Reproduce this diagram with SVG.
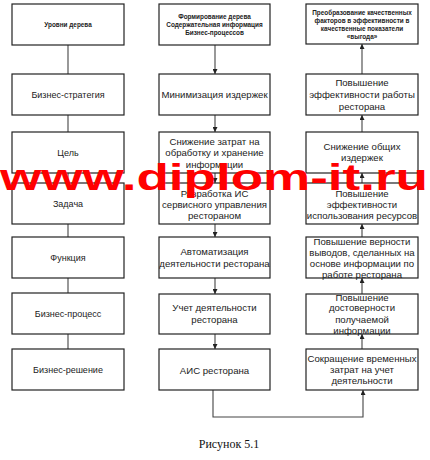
<svg xmlns="http://www.w3.org/2000/svg" width="430" height="460" viewBox="0 0 430 460">
<defs>
<style>
.box{fill:#fff;stroke:#222;stroke-width:1.2}
.t{font-family:"Liberation Sans",Arial,sans-serif;font-size:9.6px;fill:#222;text-anchor:middle;dominant-baseline:central}
.tl{font-family:"Liberation Sans",Arial,sans-serif;font-size:9px;fill:#222;text-anchor:middle;dominant-baseline:central}
.h{font-family:"Liberation Sans",Arial,sans-serif;font-size:6.4px;font-weight:bold;fill:#222;text-anchor:middle;dominant-baseline:central}
.c{fill:none;stroke:#444;stroke-width:1.1}
.wm{font-family:"Liberation Sans",Arial,sans-serif;font-size:36px;font-weight:bold;fill:#f00}
.cap{font-family:"Liberation Serif","Times New Roman",serif;font-size:12px;fill:#111;text-anchor:middle}
</style>
<marker id="ah" viewBox="0 0 6 6" refX="6" refY="3" markerWidth="5" markerHeight="5" orient="auto" markerUnits="userSpaceOnUse">
<path d="M0,0 L6,3 L0,6 z" fill="#222"/>
</marker>
</defs>
<rect width="430" height="460" fill="#fff"/>

<g id="connectors">
<line class="c" x1="68" y1="45" x2="68" y2="74"/>
<line class="c" x1="68" y1="115" x2="68" y2="132"/>
<line class="c" x1="68" y1="173" x2="68" y2="183"/>
<line class="c" x1="68" y1="224" x2="68" y2="237"/>
<line class="c" x1="68" y1="278" x2="68" y2="293"/>
<line class="c" x1="68" y1="334" x2="68" y2="349"/>

<line class="c" x1="215" y1="45" x2="215" y2="74" marker-end="url(#ah)"/>
<line class="c" x1="215" y1="115" x2="215" y2="132" marker-end="url(#ah)"/>
<line class="c" x1="215" y1="173" x2="215" y2="183" marker-end="url(#ah)"/>
<line class="c" x1="215" y1="224" x2="215" y2="237" marker-end="url(#ah)"/>
<line class="c" x1="215" y1="278" x2="215" y2="294" marker-end="url(#ah)"/>
<line class="c" x1="215" y1="334" x2="215" y2="349" marker-end="url(#ah)"/>

<line class="c" x1="362" y1="74" x2="362" y2="44" marker-end="url(#ah)"/>
<line class="c" x1="362" y1="132" x2="362" y2="115" marker-end="url(#ah)"/>
<line class="c" x1="362" y1="183" x2="362" y2="173" marker-end="url(#ah)"/>
<line class="c" x1="362" y1="237" x2="362" y2="224" marker-end="url(#ah)"/>
<line class="c" x1="362" y1="294" x2="362" y2="278" marker-end="url(#ah)"/>
<line class="c" x1="362" y1="349" x2="362" y2="334" marker-end="url(#ah)"/>

<polyline class="c" points="213,390 213,417 363,417 363,390" marker-end="url(#ah)"/>
</g>

<g id="l1"><rect class="box" x="12" y="4" width="112" height="41"/><text class="h" x="68" y="24.5">Уровни дерева</text></g>
<g id="l2"><rect class="box" x="12" y="74" width="112" height="41"/><text class="tl" x="68" y="95">Бизнес-стратегия</text></g>
<g id="l3"><rect class="box" x="12" y="132" width="112" height="41"/><text class="tl" x="68" y="152.5">Цель</text></g>
<g id="l4"><rect class="box" x="12" y="183" width="112" height="41"/><text class="tl" x="68" y="204">Задача</text></g>
<g id="l5"><rect class="box" x="12" y="237" width="112" height="41"/><text class="tl" x="68" y="258">Функция</text></g>
<g id="l6"><rect class="box" x="12" y="293" width="112" height="41"/><text class="tl" x="68" y="314">Бизнес-процесс</text></g>
<g id="l7"><rect class="box" x="12" y="349" width="112" height="41"/><text class="tl" x="68" y="369.5">Бизнес-решение</text></g>

<g id="m1"><rect class="box" x="159" y="4" width="111" height="41"/>
<text class="h" x="214.5" y="16">Формирование дерева</text>
<text class="h" x="214.5" y="24">Содержательная информация</text>
<text class="h" x="214.5" y="32">Бизнес-процессов</text></g>
<g id="m2"><rect class="box" x="159" y="74" width="111" height="41"/><text class="t" x="214.5" y="94.5">Минимизация издержек</text></g>
<g id="m3"><rect class="box" x="159" y="132" width="111" height="41"/>
<text class="t" x="214.5" y="141">Снижение затрат на</text>
<text class="t" x="214.5" y="152.5">обработку и хранение</text>
<text class="t" x="214.5" y="164">информации</text></g>
<g id="m4"><rect class="box" x="159" y="183" width="111" height="41"/>
<text class="t" x="214.5" y="193.3">Разработка ИС</text>
<text class="t" x="214.5" y="204.3">сервисного управления</text>
<text class="t" x="214.5" y="215.3">рестораном</text></g>
<g id="m5"><rect class="box" x="159" y="237" width="111" height="41"/>
<text class="t" x="214.5" y="251.7">Автоматизация</text>
<text class="t" x="214.5" y="263.3">деятельности ресторана</text></g>
<g id="m6"><rect class="box" x="159" y="294" width="111" height="40"/>
<text class="t" x="214.5" y="307.3">Учет деятельности</text>
<text class="t" x="214.5" y="319.3">ресторана</text></g>
<g id="m7"><rect class="box" x="159" y="349" width="111" height="41"/><text class="t" x="214.5" y="370">АИС ресторана</text></g>

<g id="r1"><rect class="box" x="306" y="4" width="112" height="40"/>
<text class="h" x="362" y="12.3">Преобразование качественных</text>
<text class="h" x="362" y="20">факторов в эффективности в</text>
<text class="h" x="362" y="28">качественные показатели</text>
<text class="h" x="362" y="36">«выгода»</text></g>
<g id="r2"><rect class="box" x="306" y="74" width="112" height="41"/>
<text class="t" x="362" y="82.7">Повышение</text>
<text class="t" x="362" y="94.5">эффективности работы</text>
<text class="t" x="362" y="106">ресторана</text></g>
<g id="r3"><rect class="box" x="306" y="132" width="112" height="41"/>
<text class="t" x="362" y="146">Снижение общих</text>
<text class="t" x="362" y="157.3">издержек</text></g>
<g id="r4"><rect class="box" x="306" y="183" width="112" height="41"/>
<text class="t" x="362" y="193.3">Повышение</text>
<text class="t" x="362" y="204.3">эффективности</text>
<text class="t" x="362" y="215.3">использования ресурсов</text></g>
<g id="r5"><rect class="box" x="306" y="237" width="112" height="41"/>
<text class="t" x="362" y="241">Повышение верности</text>
<text class="t" x="362" y="252">выводов, сделанных на</text>
<text class="t" x="362" y="263.3">основе информации по</text>
<text class="t" x="362" y="274.5">работе ресторана</text></g>
<g id="r6"><rect class="box" x="306" y="294" width="112" height="40"/>
<text class="t" x="362" y="297">Повышение</text>
<text class="t" x="362" y="307.8">достоверности</text>
<text class="t" x="362" y="319.3">получаемой</text>
<text class="t" x="362" y="330.5">информации</text></g>
<g id="r7"><rect class="box" x="306" y="349" width="112" height="41"/>
<text class="t" x="362" y="358.3">Сокращение временных</text>
<text class="t" x="362" y="369.8">затрат на учет</text>
<text class="t" x="362" y="380.8">деятельности</text></g>

<text class="cap" x="229" y="448">Рисунок 5.1</text>

<text class="wm" x="0" y="190" textLength="428" lengthAdjust="spacingAndGlyphs">www.diplom-it.ru</text>
</svg>
